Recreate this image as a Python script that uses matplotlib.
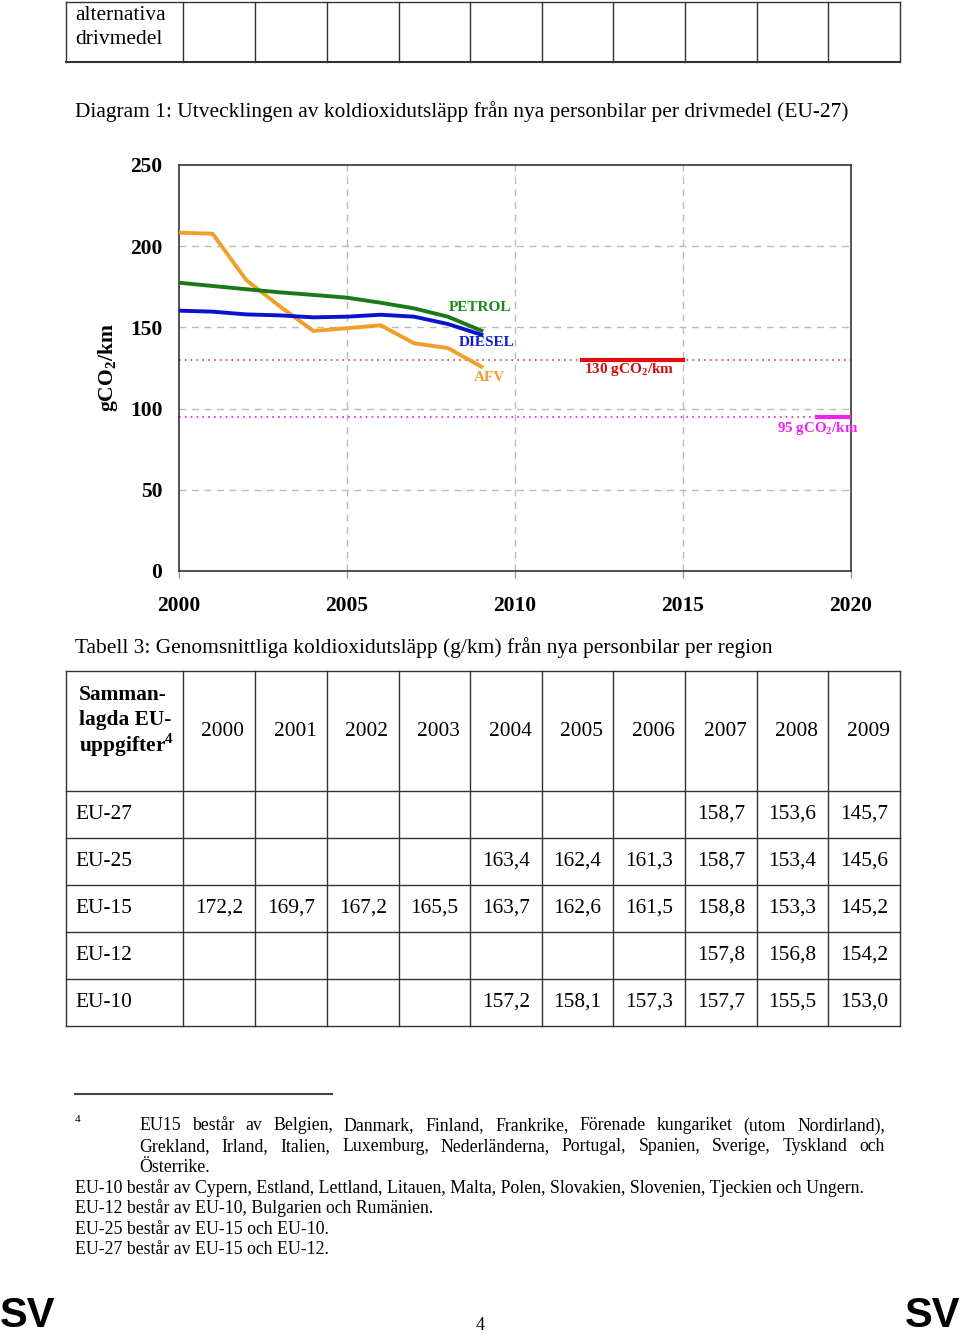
import numpy as np
import matplotlib
matplotlib.use('Agg')
import matplotlib.pyplot as plt

plt.rcParams['font.family'] = ['Liberation Serif', 'DejaVu Serif']
plt.rcParams['mathtext.fontset'] = 'custom'
plt.rcParams['mathtext.rm'] = 'Liberation Serif'
plt.rcParams['mathtext.bf'] = 'Liberation Serif:bold'

# data for diagram 1
years = np.arange(2000, 2010)
petrol = [177.5, 175.5, 173.5, 171.6, 170.0, 168.3, 165.2, 161.7, 156.6, 148.0]
diesel = [160.3, 159.7, 158.0, 157.4, 156.2, 156.6, 157.8, 156.6, 152.1, 145.5]
afv = [208.3, 207.7, 179.2, 163.0, 147.8, 149.5, 151.3, 140.2, 137.3, 125.8]
target_2015 = 130
target_2020 = 95

# data for tabell 3
tab_years = ['2000', '2001', '2002', '2003', '2004', '2005', '2006', '2007', '2008', '2009']
regions = ['EU-27', 'EU-25', 'EU-15', 'EU-12', 'EU-10']
eu27 = ['', '', '', '', '', '', '', '158,7', '153,6', '145,7']
eu25 = ['', '', '', '', '163,4', '162,4', '161,3', '158,7', '153,4', '145,6']
eu15 = ['172,2', '169,7', '167,2', '165,5', '163,7', '162,6', '161,5', '158,8', '153,3', '145,2']
eu12 = ['', '', '', '', '', '', '', '157,8', '156,8', '154,2']
eu10 = ['', '', '', '', '157,2', '158,1', '157,3', '157,7', '155,5', '153,0']
rows = [eu27, eu25, eu15, eu12, eu10]

W, H = 960, 1334
fig = plt.figure(figsize=(W / 100, H / 100), dpi=100)
FS = 15.4

# page layer in pixel coords
bg = fig.add_axes([0, 0, 1, 1])
bg.set_xlim(0, W)
bg.set_ylim(H, 0)
bg.axis('off')

cols = [66, 183, 255, 327, 399, 470, 542, 613, 685, 757, 828, 900]
lc = '#333333'

# top table fragment
for x in cols:
    bg.plot([x, x], [2, 62], color=lc, lw=1)
bg.plot([66, 900], [2, 2], color=lc, lw=1)
bg.plot([66, 900], [62, 62], color=lc, lw=1.5)
bg.text(75, 16, 'alternativa', fontsize=FS, va='center')
bg.text(75, 40, 'drivmedel', fontsize=FS, va='center')

bg.text(75, 112, 'Diagram 1: Utvecklingen av koldioxidutsläpp från nya personbilar per drivmedel (EU-27)',
        fontsize=FS, va='center')

# chart
ax = fig.add_axes([179 / W, 1 - 571 / H, 672 / W, 406 / H])
ax.plot(years, afv, color='#F0A02A', lw=2.8, zorder=3)
ax.plot(years, petrol, color='#1A7A1A', lw=2.8, zorder=4)
ax.plot(years, diesel, color='#0A14D0', lw=2.8, zorder=4)
ax.axhline(target_2015, color='#D04040', lw=1.2, ls=(0, (1, 2.5)), zorder=2)
ax.axhline(target_2020, color='#E020E0', lw=1.2, ls=(0, (1, 2.5)), zorder=2)
ax.plot([2012, 2015], [target_2015, target_2015], color='#E01010', lw=3, zorder=3)
ax.plot([2019, 2020], [target_2020, target_2020], color='#F020F0', lw=3, zorder=3)

ax.text(2008.95, 162, 'PETROL', color='#1A8A1A', fontsize=11, fontweight='bold', ha='center', va='center')
ax.text(2009.15, 140.5, 'DIESEL', color='#1020D0', fontsize=11, fontweight='bold', ha='center', va='center')
ax.text(2009.25, 119, 'AFV', color='#F0A02A', fontsize=11, fontweight='bold', ha='center', va='center')
ax.text(2013.4, 124, r'130 gCO$_\mathbf{2}$/km', color='#D01010', fontsize=11, fontweight='bold',
        ha='center', va='center')
ax.text(2019.0, 88, r'95 gCO$_\mathbf{2}$/km', color='#F020F0', fontsize=10.8, fontweight='bold',
        ha='center', va='center')

ax.set_xlim(2000, 2020)
ax.set_ylim(0, 250)
ax.set_xticks([2000, 2005, 2010, 2015, 2020])
ax.set_yticks([0, 50, 100, 150, 200, 250])
for yv in [50, 100, 150, 200]:
    ax.axhline(yv, color='#BBBBBB', lw=1, ls=(0, (5, 4)), zorder=1)
for xv in [2005, 2010, 2015]:
    ax.axvline(xv, color='#BBBBBB', lw=1, ls=(0, (5, 4)), zorder=1)
for s in ax.spines.values():
    s.set_color('#333333')
    s.set_linewidth(1.2)
ax.tick_params(axis='x', length=5, width=1, color='#999999', pad=13, labelsize=15.5)
ax.tick_params(axis='y', length=0, pad=12, labelsize=15.5)
for lab in ax.get_xticklabels() + ax.get_yticklabels():
    lab.set_fontweight('bold')
ax.set_ylabel(r'gCO$_\mathbf{2}$/km', fontsize=15.5, fontweight='bold')
ax.yaxis.set_label_coords(-0.088, 0.5)

# tabell 3
bg.text(75, 648, 'Tabell 3: Genomsnittliga koldioxidutsläpp (g/km) från nya personbilar per region',
        fontsize=FS, va='center')
row_y = [671, 791, 838, 885, 932, 979, 1026]
for x in cols:
    bg.plot([x, x], [row_y[0], row_y[-1]], color=lc, lw=1)
for y in row_y:
    bg.plot([66, 900], [y, y], color=lc, lw=1)
bg.text(79, 695, 'Samman-', fontsize=FS, fontweight='bold', va='center')
bg.text(79, 720, 'lagda EU-', fontsize=FS, fontweight='bold', va='center')
bg.text(79, 745, 'uppgifter$^\\mathbf{4}$', fontsize=FS, fontweight='bold', va='center')
for i, yr in enumerate(tab_years):
    bg.text((cols[i + 1] + cols[i + 2]) / 2 + 4, 731, yr, fontsize=FS, ha='center', va='center')
for r, (name, vals) in enumerate(zip(regions, rows)):
    yc = (row_y[r + 1] + row_y[r + 2]) / 2
    bg.text(75, yc, name, fontsize=FS, va='center')
    for i, v in enumerate(vals):
        if v:
            bg.text((cols[i + 1] + cols[i + 2]) / 2, yc, v, fontsize=FS, ha='center', va='center')

# footnotes
bg.plot([75, 332], [1094, 1094], color='#444444', lw=1.5)
bg.text(75, 1120, '4', fontsize=8, va='center')
FN = 12.8
fn = ['EU15 består av Belgien, Danmark, Finland, Frankrike, Förenade kungariket (utom Nordirland),',
      'Grekland, Irland, Italien, Luxemburg, Nederländerna, Portugal, Spanien, Sverige, Tyskland och']
renderer = fig.canvas.get_renderer()
inv = bg.transData.inverted()
for k, line in enumerate(fn):
    words = line.split()
    y = 1126 + 20.5 * k
    txts = [bg.text(0, y, w, fontsize=FN, va='center') for w in words]
    widths = []
    for t in txts:
        bb = t.get_window_extent(renderer)
        p0 = inv.transform((bb.x0, bb.y0))
        p1 = inv.transform((bb.x1, bb.y0))
        widths.append(p1[0] - p0[0])
    gap = (885 - 139 - sum(widths)) / (len(words) - 1)
    x = 139
    for t, wd in zip(txts, widths):
        t.set_x(x)
        x += wd + gap
bg.text(139, 1167, 'Österrike.', fontsize=FN, va='center')
fn2 = ['EU-10 består av Cypern, Estland, Lettland, Litauen, Malta, Polen, Slovakien, Slovenien, Tjeckien och Ungern.',
       'EU-12 består av EU-10, Bulgarien och Rumänien.',
       'EU-25 består av EU-15 och EU-10.',
       'EU-27 består av EU-15 och EU-12.']
for k, line in enumerate(fn2):
    bg.text(75, 1188 + 20.5 * k, line, fontsize=FN, va='center')

bg.text(0, 1316, 'SV', fontsize=30, fontweight='bold', family='Liberation Sans', va='center')
bg.text(960, 1316, 'SV', fontsize=30, fontweight='bold', family='Liberation Sans', va='center', ha='right')
bg.text(480, 1325, '4', fontsize=13, ha='center', va='center')

fig.savefig('out.png', dpi=100)
